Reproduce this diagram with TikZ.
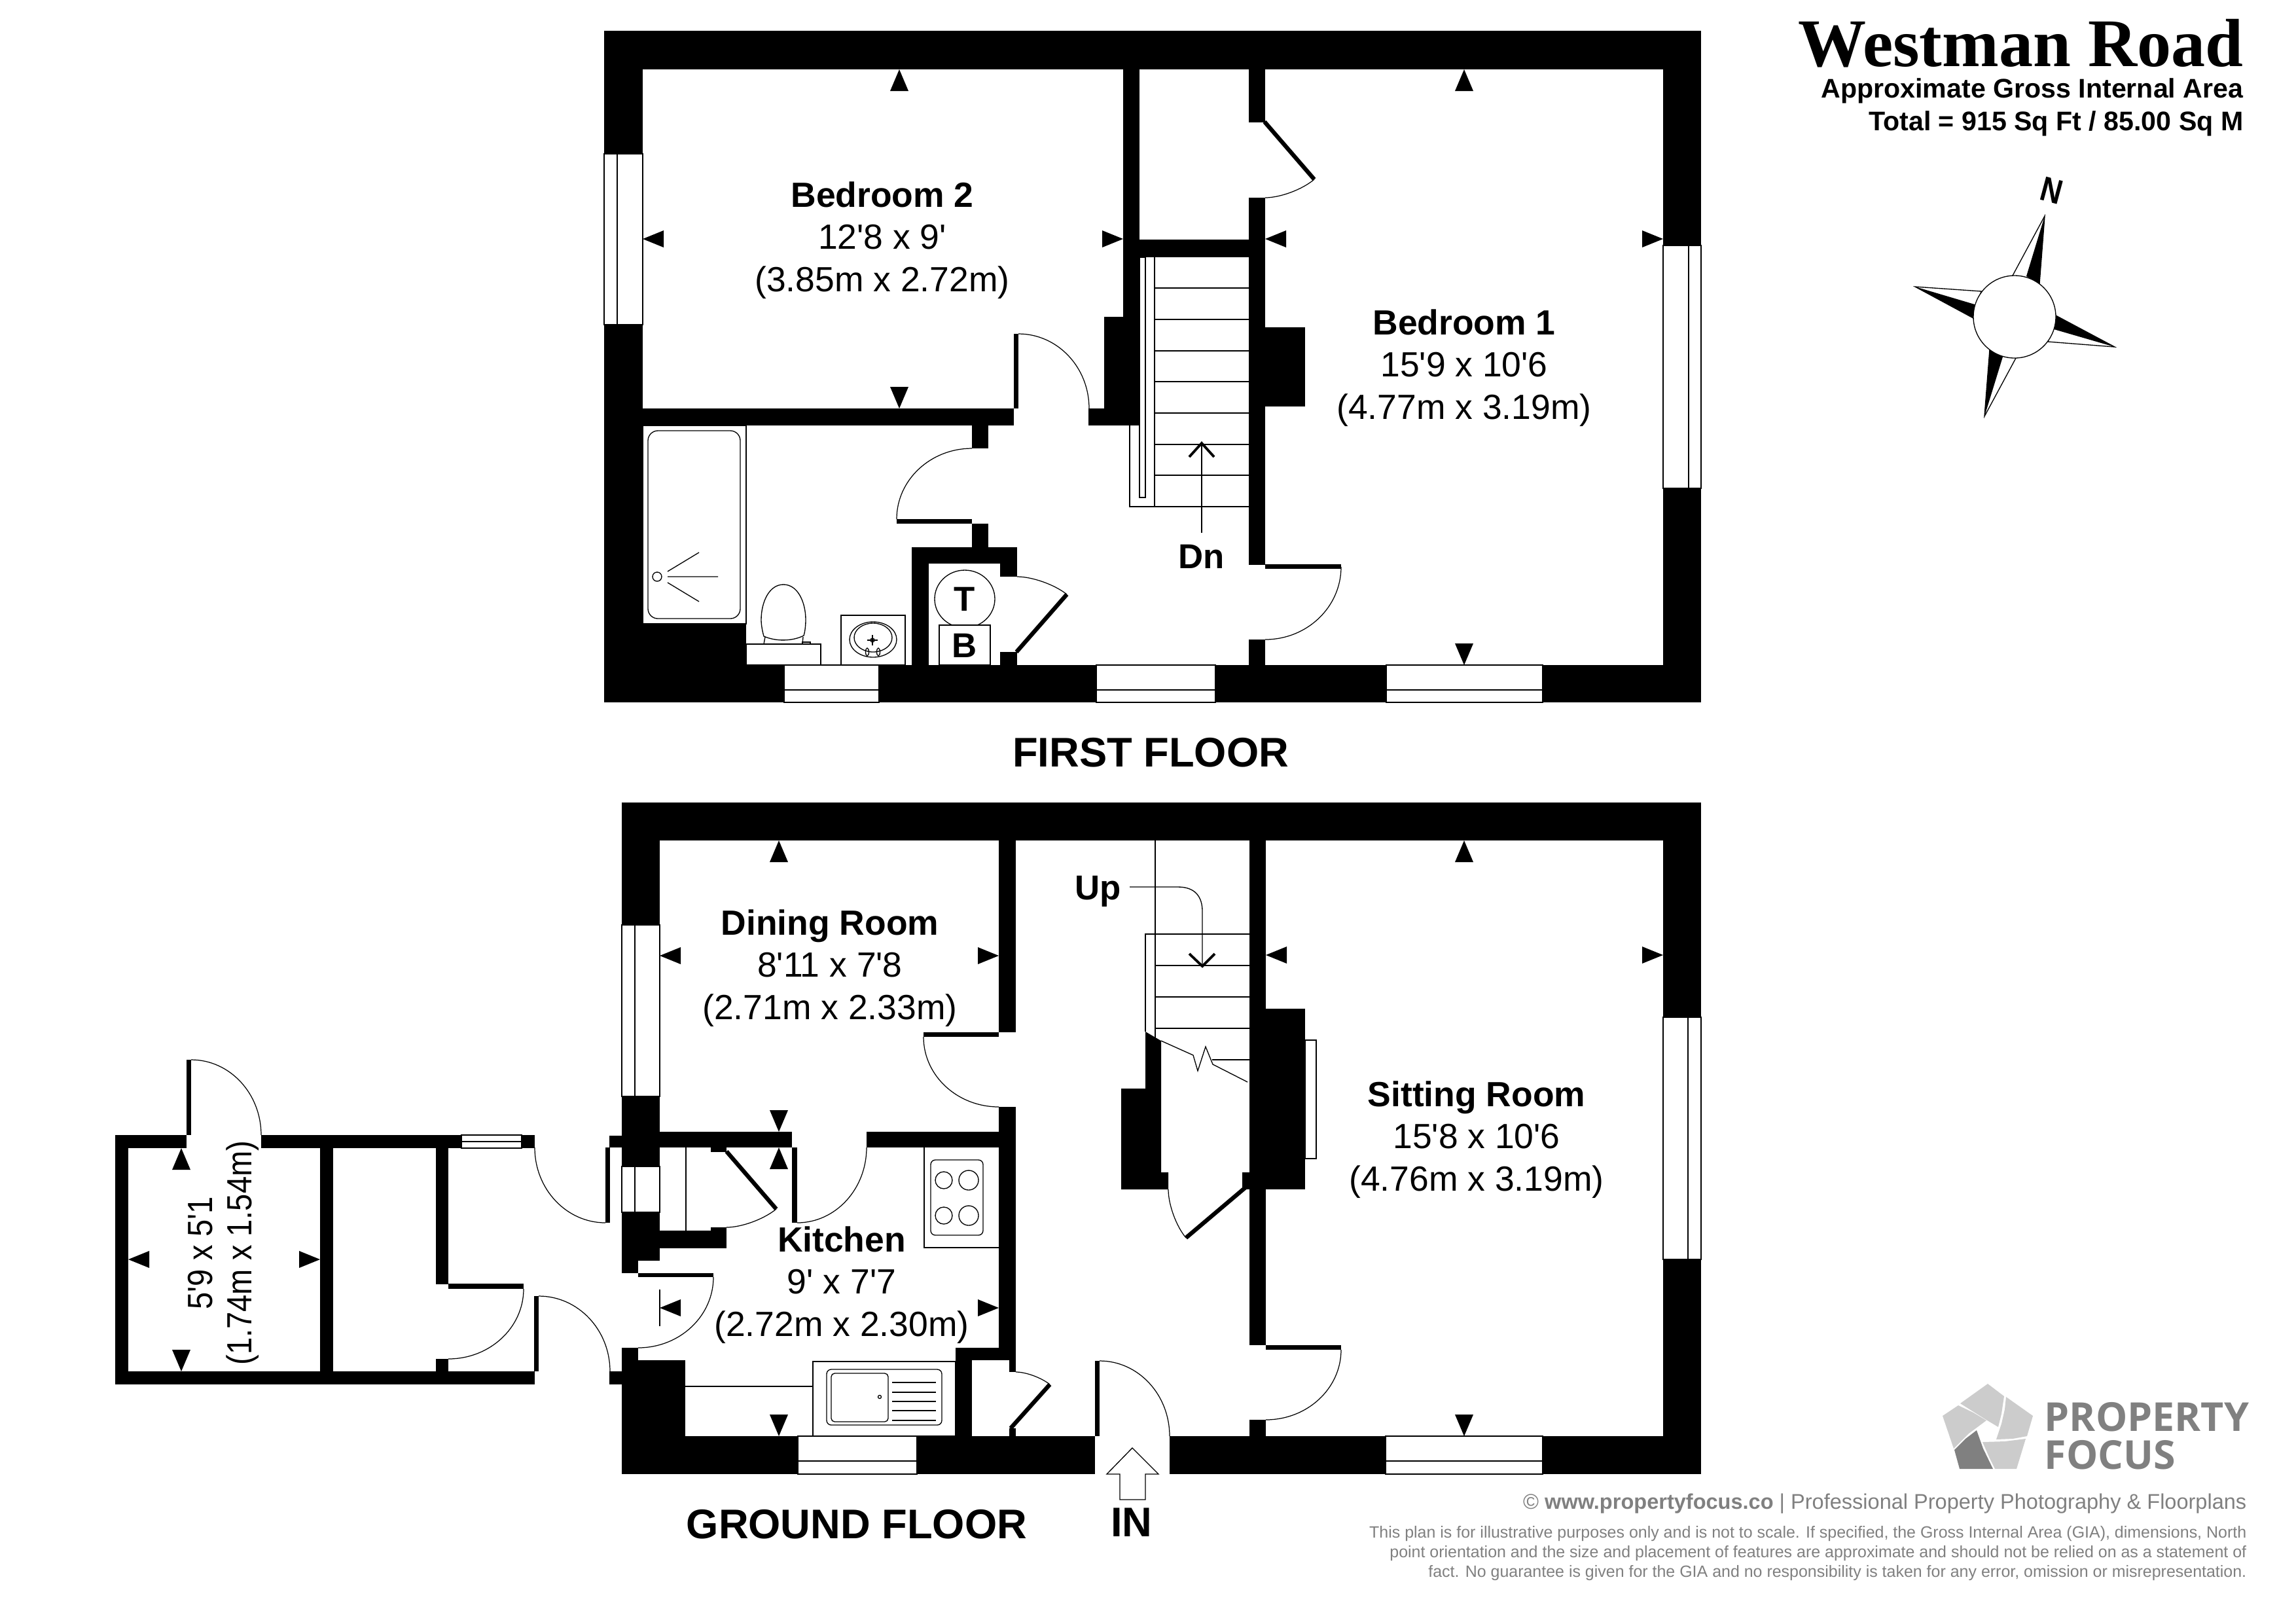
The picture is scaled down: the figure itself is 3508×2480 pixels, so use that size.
\documentclass[tikz,border=0pt]{standalone}
\usepackage{fontspec}
\setmainfont{Liberation Sans}
\newfontfamily\titlefont{Liberation Serif}
\newfontfamily\logofont{Open Sans}
\usetikzlibrary{calc}
\definecolor{logodark}{HTML}{808080}
\definecolor{logolight}{HTML}{CCCCCC}
\newcommand{\swing}[3]{\draw[swingline] (#1) .. controls ($(#1)!.5523!(#2)$) and ($(#3)!.5523!(#2)$) .. (#3);}
\newcommand{\ft}{\textquotesingle}
\begin{document}
\begin{tikzpicture}[x=0.01cm,y=-0.01cm,
    thinline/.style={line width=0.38pt},
    swingline/.style={line width=0.35pt},
    win/.style={draw=black,fill=white,line width=0.35pt},
    leaf/.style={line width=1.8pt},
    chevron/.style={line width=1.1pt},
    room/.style={align=center,inner sep=0,font=\fontsize{15.2}{18.35}\selectfont},
    shedtext/.style={rotate=90,inner sep=0,font=\fontsize{15.2}{18.1}\selectfont},
    floorname/.style={inner sep=0,font=\fontsize{18}{21}\selectfont\bfseries},
    signtext/.style={inner sep=0,font=\fontsize{15}{18}\selectfont\bfseries}]
    \useasboundingbox (0,0) rectangle (3508,2480);

    \fill (923,47) rectangle (2599,1073);
    \fill[white] (982,106) rectangle (2541,1016);
    \foreach \a/\b/\c/\d in {982/953/1140/1016,1716/106/1741/650,1687/484/1741/650,1663/624/1741/650,
        1741/366/1908/393,1908/106/1933/187,1908/302/1933/863,1908/977/1933/1016,1933/500/1994/621,
        982/624/1549/650,1549/510/1556/624,1485/650/1510/685,1370/793/1485/800,1485/800/1510/836,
        1393/836/1554/861,1393/836/1419/1016,1528/861/1554/881,1528/996/1554/1016,1933/862/2049/869}
        \fill (\a,\b) rectangle (\c,\d);
    \draw[win] (923,235) rectangle (982,496);
    \draw[thinline] (943,235) -- (943,496);
    \draw[win] (2541,375) rectangle (2599,746);
    \draw[thinline] (2580,375) -- (2580,746);
    \foreach \a/\b in {1198/1343,1675/1857,2118/2357} {
        \draw[win] (\a,1016) rectangle (\b,1073);
        \draw[thinline] (\a,1054) -- (\b,1054);
    }
    \draw[leaf] (1932,186) -- (2008,274);
    \draw[leaf] (1630,908) -- (1553,996);
    \swing{2008,274}{1975,302}{1933,302}
    \swing{2049,866}{2049,977}{1933,977}
    \swing{1556,510}{1664,510}{1664,624}
    \swing{1485,685}{1370,685}{1370,793}
    \swing{1554,881}{1596,881}{1630,908}

    \draw[thinline] (982,650) rectangle (1140,953);
    \draw[thinline,rounded corners=4.3pt] (990,658) rectangle (1131,945);
    \draw[thinline] (1004,881) circle [radius=7];
    \draw[thinline] (1020,873) -- (1068,844) (1020,881) -- (1097,881) (1020,890) -- (1068,919);
    \draw[thinline] (1140,984) rectangle (1254,1016);
    \draw[thinline] (1197,893) .. controls (1175,893) and (1163,920) .. (1163,947) .. controls (1163,955) and (1165,965) .. (1167,972) .. controls (1185,980) and (1210,980) .. (1228,971) .. controls (1230,965) and (1231,955) .. (1231,947) .. controls (1231,920) and (1219,893) .. (1197,893);
    \draw[thinline] (1169,973) -- (1167,984) (1227,973) -- (1226,984);
    \draw[thinline] (1226,981) rectangle (1238,984);
    \draw[thinline] (1285,940) rectangle (1383,1016);
    \draw[thinline] (1334,977) ellipse [x radius=36,y radius=27];
    \draw[thinline] (1334,974) ellipse [x radius=29,y radius=22];
    \draw[thinline] (1325,978) -- (1341,978) (1333,970) -- (1333,986);
    \draw[thinline] (1333,978) circle [radius=3];
    \draw[thinline] (1325,996) ellipse [x radius=2.5,y radius=6] (1342,996) ellipse [x radius=2.5,y radius=6];
    \draw[thinline] (1474,915) ellipse [x radius=46,y radius=44];
    \draw[win] (1435,955) rectangle (1513,1016);

    \draw[thinline] (1726,650) -- (1726,774) -- (1908,774);
    \draw[win] (1741,393) rectangle (1750,760);
    \draw[thinline] (1764,393) -- (1764,774);
    \foreach \y in {440,488,536,583,631,679,726}
        \draw[thinline] (1764,\y) -- (1908,\y);
    \draw[thinline] (1836,814) -- (1836,677);
    \draw[chevron] (1817,698) -- (1836,677) -- (1855,698);

    \fill (950,1226) rectangle (2599,2252);
    \fill[white] (1008,1284) rectangle (2541,2194);
    \fill[white] (975,1926) rectangle (1008,1945);
    \fill[white] (950,1945) rectangle (1008,2059);
    \fill[white] (975,2059) rectangle (1008,2078);
    \fill[white] (1673,2194) rectangle (1787,2252);
    \foreach \a/\b/\c/\d in {1008/2078/1047/2194,931/1735/950/1753,931/2095/950/2115,1008/1729/1210/1753,1324/1729/1526/1753,
        925/1753/932/1868,1210/1753/1218/1868,1526/1284/1552/1577,1411/1577/1526/1584,1526/1691/1552/2078,
        1460/2059/1552/2078,1460/2078/1485/2194,1542/2078/1552/2096,1542/2182/1552/2194,1673/2079/1680/2194,
        1909/1284/1934/2055,1909/2169/1934/2194,1934/2055/2049/2062,1934/1541/1994/1817,1898/1791/1909/1817,
        1086/1753/1110/1760,1008/1880/1110/1907,1086/1875/1110/1880,975/1945/1090/1951}
        \fill (\a,\b) rectangle (\c,\d);
    \fill (1750,1576) -- (1774,1590) -- (1774,1791) -- (1785,1791) -- (1785,1817) -- (1713,1817) -- (1713,1663) -- (1750,1663) -- cycle;
    \draw[win] (950,1413) rectangle (1008,1675);
    \draw[thinline] (970,1413) -- (970,1675);
    \draw[win] (950,1782) rectangle (1008,1852);
    \draw[thinline] (970,1782) -- (970,1852);
    \draw[win] (2541,1554) rectangle (2599,1924);
    \draw[thinline] (2579,1554) -- (2579,1924);
    \foreach \a/\b in {1219/1401,2117/2357} {
        \draw[win] (\a,2194) rectangle (\b,2252);
        \draw[thinline] (\a,2232) -- (\b,2232);
    }
    \draw[thinline] (1008,1970) -- (1008,2026);
    \draw[thinline] (1994,1589) rectangle (2011,1770);
    \draw[leaf] (1903,1814) -- (1812,1891);
    \draw[leaf] (1110,1759) -- (1186,1847);
    \draw[leaf] (1604,2115) -- (1544,2182);
    \swing{1218,1868}{1324,1868}{1324,1753}
    \swing{1411,1584}{1411,1691}{1526,1691}
    \swing{1186,1847}{1152,1875}{1110,1875}
    \swing{1090,1951}{1090,2059}{975,2059}
    \swing{1552,2096}{1580,2096}{1604,2115}
    \swing{1680,2079}{1787,2079}{1787,2194}
    \swing{2049,2062}{2049,2169}{1934,2169}
    \swing{1785,1817}{1785,1859}{1812,1891}

    \draw[thinline] (1765,1284) -- (1765,1585);
    \draw[thinline] (1750,1576) -- (1750,1427) -- (1909,1427);
    \foreach \y in {1475,1523,1571}
        \draw[thinline] (1765,\y) -- (1909,\y);
    \draw[thinline] (1852,1619) -- (1909,1619);
    \draw[thinline] (1774,1590) -- (1823,1612) -- (1830,1636) -- (1842,1599) -- (1853,1626) -- (1906,1653);
    \draw[thinline] (1726,1355) -- (1800,1355) .. controls (1826,1355) and (1837,1370) .. (1837,1392) -- (1837,1476);
    \draw[chevron] (1817,1457) -- (1837,1476) -- (1856,1457);
    \draw[thinline] (1730,2212) -- (1770,2252) -- (1750,2252) -- (1750,2291) -- (1711,2291) -- (1711,2252) -- (1691,2252) -- cycle;

    \draw[thinline] (1412,1753) -- (1412,1906) -- (1526,1906);
    \draw[thinline,rounded corners=2pt] (1422,1772) rectangle (1502,1887);
    \foreach \x/\y/\r in {1442/1803/13,1480/1803/15,1442/1857/13,1480/1857/15}
        \draw[thinline] (\x,\y) circle [radius=\r];
    \draw[thinline] (1048,1753) -- (1048,1880);
    \draw[thinline] (1047,2118) -- (1242,2118);
    \draw[thinline] (1242,2080) rectangle (1460,2194);
    \draw[thinline,rounded corners=2pt] (1263,2092) rectangle (1439,2177);
    \draw[thinline,rounded corners=1.5pt] (1270,2098) rectangle (1357,2172);
    \foreach \y in {2112,2127,2141,2155,2170}
        \draw[thinline] (1363,\y) -- (1430,\y);
    \draw[thinline] (1344,2134) circle [radius=2.5];

    \foreach \a/\b/\c/\d in {176/1734/285/1754,399/1734/705/1754,797/1734/817/1754,176/2095/817/2115,176/1734/196/2115,
        489/1754/509/2095,666/1754/685/1962,685/1961/800/1969,666/2076/685/2095,816/1980/823/2095,285/1619/292/1734}
        \fill (\a,\b) rectangle (\c,\d);
    \draw[win] (705,1734) rectangle (797,1754);
    \draw[thinline] (705,1744) -- (797,1744);
    \swing{292,1619}{399,1619}{399,1734}
    \swing{817,1753}{817,1868}{925,1868}
    \swing{800,1969}{800,2076}{685,2076}
    \swing{823,1980}{932,1980}{932,2095}

    \foreach \x/\y in {1374/106,2237/106,1190/1284,1190/1753,2237/1284,277/1754}
        \fill (\x,\y) -- ++(-14,33) -- ++(28,0) -- cycle;
    \foreach \x/\y in {1374/624,2237/1016,1190/1729,1190/2194,2237/2194,277/2095}
        \fill (\x,\y) -- ++(-14,-33) -- ++(28,0) -- cycle;
    \foreach \x/\y in {982/365,1933/365,1008/1460,1008/1998,1934/1459,196/1924}
        \fill (\x,\y) -- ++(32,-13) -- ++(0,26) -- cycle;
    \foreach \x/\y in {1716/365,2541/365,1526/1460,1526/1998,2541/1459,489/1924}
        \fill (\x,\y) -- ++(-32,-13) -- ++(0,26) -- cycle;

    \node[room] (bedtwo) at (1348,367) {\textbf{Bedroom 2}\\12\ft8 x 9\ft\\(3.85m x 2.72m)};
    \node[room] (bedone) at (2237,562) {\textbf{Bedroom 1}\\15\ft9 x 10\ft6\\(4.77m x 3.19m)};
    \node[room] (dining) at (1268,1479) {\textbf{Dining Room}\\8\ft11 x 7\ft8\\(2.71m x 2.33m)};
    \node[room] (kitchen) at (1286,1963) {\textbf{Kitchen}\\9\ft{} x 7\ft7\\(2.72m x 2.30m)};
    \node[room] (sitting) at (2256,1741) {\textbf{Sitting Room}\\15\ft8 x 10\ft6\\(4.76m x 3.19m)};
    \node[shedtext] (shedfeet) at (306,1914) {\scalebox{.88}[1]{5\ft9 x 5\ft1}};
    \node[shedtext] (shedmetres) at (371,1914) {\scalebox{.88}[1]{(1.74m x 1.54m)}};
    \node[signtext] (dn) at (1836,850) {Dn};
    \node[signtext] (up) at (1678,1362) {Up};
    \node[signtext] (tank) at (1474,915) {T};
    \node[signtext] (boiler) at (1474,986) {B};
    \node[floorname] (first) at (1758,1150) {FIRST FLOOR};
    \node[floorname] (ground) at (1309,2329) {GROUND FLOOR};
    \node[floorname] (entry) at (1729,2326) {IN};

    \node[anchor=base east,inner sep=0,font=\fontsize{29.6}{32}\selectfont\titlefont\bfseries] (title) at (3428,101) {Westman Road};
    \node[anchor=base east,inner sep=0,font=\fontsize{11.7}{14}\selectfont\bfseries] (area) at (3428,149) {Approximate Gross Internal Area};
    \node[anchor=base east,inner sep=0,font=\fontsize{11.7}{14}\selectfont\bfseries] (total) at (3428,199) {Total = 915 Sq Ft / 85.00 Sq M};

    \foreach \tx/\ty/\ax/\ay/\bx/\by/\cx/\cy in {3124/330/3075/421/3096/422/3116/433,3231/530/3129/522/3138/503/3141/482,
        3032/636/3080/547/3060/545/3040/534,2926/438/3027/445/3017/465/3015/486} {
        \draw[thinline,fill=white] (\tx,\ty) -- (\ax,\ay) -- (\cx,\cy) -- cycle;
        \fill (\tx,\ty) -- (\bx,\by) -- (\cx,\cy) -- cycle;
    }
    \draw[thinline,fill=white] (3078,484) circle [radius=63];
    \node[rotate=-15,inner sep=0,font=\fontsize{15}{18}\selectfont\bfseries] (north) at (3135,291) {\scalebox{.85}[1]{N}};

    \fill[logolight] (3037,2114) -- (3062,2133) -- (3058,2160) -- (3053,2180) -- (3033,2168) -- (2995,2144) -- cycle;
    \fill[logolight] (3065,2134) -- (3106,2163) -- (3097,2194) -- (3075,2198) -- (3050,2199) -- (3058,2175) -- (3063,2153) -- cycle;
    \fill[logolight] (3095,2198) -- (3081,2244) -- (3048,2244) -- (3040,2228) -- (3029,2203) -- (3063,2202) -- cycle;
    \fill[logolight] (2992,2147) -- (3015,2158) -- (3035,2170) -- (3008,2190) -- (2985,2213) -- (2968,2163) -- cycle;
    \fill[logodark] (3020,2185) -- (3030,2213) -- (3045,2244) -- (2994,2244) -- (2986,2215) -- (3003,2198) -- cycle;
    \node[anchor=base west,inner sep=0,text=logodark,font=\fontsize{17.3}{20}\selectfont\logofont\bfseries] (property) at (3123,2186) {PROPERTY};
    \node[anchor=base west,inner sep=0,text=logodark,font=\fontsize{17.3}{20}\selectfont\logofont\bfseries] (focus) at (3123,2244) {FOCUS};
    \node[anchor=east,inner sep=0,text=logodark,font=\fontsize{9.25}{11}\selectfont] (web) at (3433,2297) {© \textbf{www.propertyfocus.co} | Professional Property Photography \& Floorplans};
    \node[anchor=east,inner sep=0,align=right,text=logodark,font=\fontsize{7.1}{8.53}\selectfont] (disclaimer) at (3433,2373) {This plan is for illustrative purposes only and is not to scale. If specified, the Gross Internal Area (GIA), dimensions, North\\point orientation and the size and placement of features are approximate and should not be relied on as a statement of\\fact. No guarantee is given for the GIA and no responsibility is taken for any error, omission or misrepresentation.};
\end{tikzpicture}
\end{document}
